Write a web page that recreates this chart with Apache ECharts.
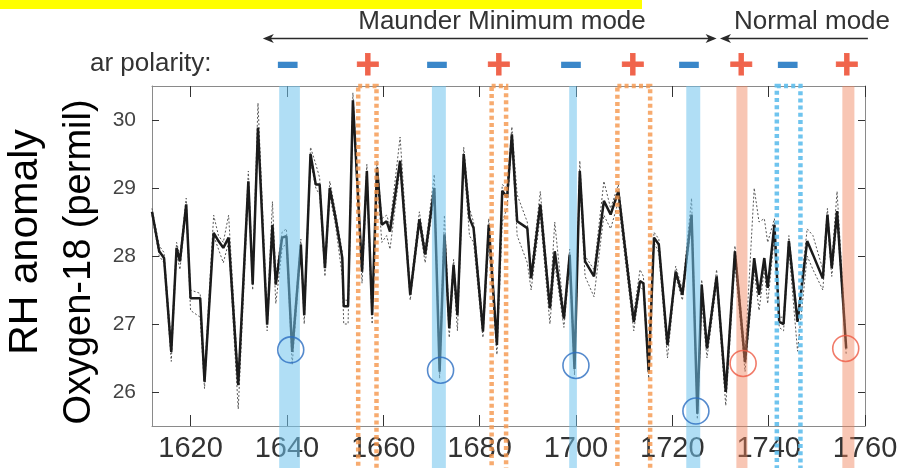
<!DOCTYPE html>
<html><head><meta charset="utf-8">
<script src="https://cdn.jsdelivr.net/npm/echarts@6/dist/echarts.min.js"></script>
<style>html,body{margin:0;padding:0;background:#fff}#c{width:904px;height:468px}</style>
</head><body><div id="c"></div>
<script>
// ---- data ----
const years = [1612,1613.5,1614.5,1616,1617.1,1617.8,1619.1,1620,1622,1622.9,1624.8,1625.8,1626.8,1627.9,1629.9,1632,1632.9,1634,1635.9,1637,1637.7,1639,1639.9,1641.1,1642.9,1643.6,1644.9,1646,1646.8,1647.9,1648.9,1650.1,1651.5,1651.8,1652.7,1653.7,1655.6,1656.6,1657.7,1658.7,1659.7,1660.7,1661.4,1663.5,1665.6,1667.5,1668.7,1670.6,1671.7,1672.7,1673.7,1674.6,1675.4,1676.7,1677.9,1678.75,1680.7,1681.9,1683.6,1684.7,1685.7,1686.7,1687.8,1689.9,1690.7,1692.6,1694.6,1695.6,1697.5,1698.7,1699.7,1700.8,1701.9,1703.75,1705.8,1707.2,1708.8,1712,1713.3,1714,1715.1,1716.2,1717.2,1719,1720.7,1722.1,1724,1725.2,1726.1,1727.2,1729.2,1731.1,1733,1735.1,1737,1738,1739.1,1739.8,1741.2,1742.2,1743.1,1744.2,1746,1748,1749.2,1751.25,1752.2,1753.1,1754.2,1756.1];
const d18O = [28.65,28.07,27.97,26.59,28.12,27.92,28.76,27.38,27.38,26.15,28.34,28.22,28.12,28.27,26.1,29.1,27.58,29.89,26.99,28.46,27.58,28.27,28.29,26.59,28.17,27.13,29.5,29.05,29.05,27.82,29.0,28.56,27.97,27.26,27.26,30.29,27.77,29.25,27.13,29.3,28.46,28.51,28.36,29.4,27.43,28.54,28.02,29.0,26.3,28.32,26.94,27.87,27.13,29.5,28.56,28.41,26.89,28.46,26.69,28.96,28.86,29.79,28.51,28.41,27.67,28.76,27.23,28.07,27.08,28.02,26.34,29.25,27.92,27.7,28.81,28.61,28.95,27.03,27.63,27.6,26.3,28.27,28.17,26.69,27.77,27.43,28.61,25.68,27.58,26.64,27.7,26.0,28.07,26.44,27.97,27.43,27.97,27.53,28.46,27.03,27.0,28.22,27.03,28.22,28.02,27.67,28.61,27.82,28.66,26.64];
const d18OHigh = [28.7,28.15,28.05,26.7,28.2,28.0,28.85,27.5,27.45,26.25,28.6,28.3,28.2,28.6,26.2,29.25,27.7,30.25,27.1,28.8,27.7,28.35,28.4,26.7,28.25,27.2,29.6,29.35,29.15,27.9,29.1,28.65,28.05,27.35,27.35,30.4,27.85,29.35,27.2,29.4,28.55,28.6,28.45,29.75,27.5,28.65,28.1,29.2,26.4,28.6,27.05,27.95,27.2,29.6,28.7,28.5,27.0,28.55,26.8,29.05,29.0,29.9,28.9,28.5,27.75,28.95,27.3,28.5,27.15,28.1,26.45,29.4,28.0,27.8,29.1,28.7,29.05,27.15,27.8,27.7,26.4,28.35,28.25,26.75,27.85,27.5,28.85,25.75,27.65,26.7,27.8,26.1,28.15,26.55,29.0,28.5,28.55,28.2,28.55,27.1,27.1,28.3,27.1,28.4,28.3,27.8,28.7,27.9,28.95,26.7];
const d18OLow = [28.6,28.0,27.9,26.45,28.05,27.8,28.7,27.2,27.1,26.05,28.3,28.1,27.9,28.2,25.75,29.0,27.5,29.8,26.9,28.4,27.3,28.1,28.2,26.4,28.1,27.0,29.4,29.0,28.9,27.7,28.9,28.45,27.7,27.0,27.0,30.2,27.6,29.1,27.0,29.2,28.2,28.3,28.1,29.3,27.35,28.45,27.9,28.9,26.2,28.2,26.8,27.75,26.9,29.4,28.3,28.2,26.8,28.2,26.55,28.5,28.7,29.7,28.3,27.9,27.5,28.6,27.0,27.9,26.95,27.9,26.25,29.1,27.7,27.4,28.6,28.4,28.8,26.9,27.55,27.5,26.2,28.2,28.05,26.5,27.7,27.35,28.5,25.6,27.3,26.5,27.6,25.8,27.9,26.3,27.8,27.2,27.8,27.3,28.3,26.95,26.9,28.1,26.6,28.0,27.8,27.5,28.5,27.7,28.55,26.55];

const xTickLabels = [1620,1640,1660,1680,1700,1720,1740,1760];
const yTickLabels = [26,27,28,29,30];

const solidBandStart = [1638.4,1670.1,1698.6,1722.9,1733.3,1755.3];
const solidBandEnd   = [1642.7,1673.0,1700.2,1725.8,1735.6,1757.8];
const solidBandPolarity = ['-','-','-','-','+','+'];

const dottedBandStart = [1654.8,1682.5,1708.6,1741.7];
const dottedBandEnd   = [1658.6,1685.5,1715.4,1746.6];
const dottedBandPolarity = ['+','+','+','-'];

const signYears = [1640.2,1656.8,1671.2,1684.0,1699.0,1711.8,1723.5,1734.3,1744.0,1756.2];
const signPolarity = ['-','+','-','+','-','+','-','+','-','+'];

const circleYears  = [1640.8,1671.9,1700.0,1724.9,1734.7,1756.0];
const circleValues = [26.62,26.32,26.39,25.72,26.42,26.64];
const circlePolarity = ['-','-','-','-','+','+'];

const modeNames = ['Maunder Minimum mode','Normal mode'];
const modeStart = [1635.0,1729.9];
const modeEnd   = [1729.2,1760.6];

// ---- styles ----
const FONT = "'Liberation Sans', Arial, Helvetica, sans-serif";
const NEG_SOLID = 'rgba(112,194,236,0.55)';
const POS_SOLID = 'rgba(240,128,88,0.45)';
const NEG_DOT = 'rgba(95,190,236,0.9)';
const POS_DOT = 'rgba(245,150,75,0.8)';
const NEG_CIRC = '#2b6dc0';
const POS_CIRC = '#ee5a44';
const NEG_SIGN = '#3a87c9';
const POS_SIGN = '#f0644c';
const Y_TOP = 30.5, Y_BOTTOM_EXT = 24.8;

const chart = echarts.init(document.getElementById('c'), null, {renderer:'canvas'});

const xBase = {type:'value', min:1612, max:1760, splitLine:{show:false},
  axisLine:{show:true, lineStyle:{color:'#8a8a8a', width:1}}};
const yBase = {type:'value', min:25.5, max:30.5, splitLine:{show:false},
  axisLine:{show:true, lineStyle:{color:'#8a8a8a', width:1}}};

function bandRenderer(dotted){
  return function(params, api){
    const p0 = api.coord([api.value(0), Y_TOP]);
    const p1 = api.coord([api.value(1), Y_BOTTOM_EXT]);
    const pos = api.value(2) === 1;
    const shape = {x:p0[0], y:p0[1], width:p1[0]-p0[0], height:p1[1]-p0[1]};
    if (!dotted) return {type:'rect', shape, style:{fill: pos?POS_SOLID:NEG_SOLID}};
    return {type:'rect', shape, style:{fill:'none', stroke: pos?POS_DOT:NEG_DOT, lineWidth:4.5, lineDash:[4,3.2]}};
  };
}

chart.setOption({
  animation:false,
  backgroundColor:'#fff',
  grid:{left:152, right:39, top:86, bottom:42},
  xAxis:[
    Object.assign({}, xBase, {position:'bottom',
      axisTick:{show:true, inside:true, length:11, customValues:xTickLabels, lineStyle:{color:'#333'}},
      axisLabel:{show:true, customValues:xTickLabels, fontSize:29, color:'#333', margin:8, fontFamily:FONT,
        formatter:(v)=>String(v)}}),
    Object.assign({}, xBase, {position:'top',
      axisTick:{show:true, inside:true, length:11, customValues:xTickLabels, lineStyle:{color:'#333'}},
      axisLabel:{show:false}})
  ],
  yAxis:[
    Object.assign({}, yBase, {position:'left',
      axisTick:{show:true, inside:true, length:7, customValues:yTickLabels, lineStyle:{color:'#333'}},
      axisLabel:{show:true, customValues:yTickLabels, fontSize:21, color:'#444', margin:16, fontFamily:FONT,
        formatter:(v)=>String(v)}}),
    Object.assign({}, yBase, {position:'right',
      axisTick:{show:true, inside:true, length:7, customValues:yTickLabels, lineStyle:{color:'#333'}},
      axisLabel:{show:false}})
  ],
  series:[
    {type:'line', name:'upper', xAxisIndex:0, yAxisIndex:0, symbol:'none', z:2, silent:true,
      data: years.map((y,i)=>[y, d18OHigh[i]]),
      lineStyle:{color:'#555', width:1, type:[2,2]}},
    {type:'line', name:'lower', xAxisIndex:0, yAxisIndex:0, symbol:'none', z:2, silent:true,
      data: years.map((y,i)=>[y, d18OLow[i]]),
      lineStyle:{color:'#555', width:1, type:[2,2]}},
    {type:'line', name:'d18O', xAxisIndex:0, yAxisIndex:0, symbol:'none', z:3, silent:true,
      data: years.map((y,i)=>[y, d18O[i]]),
      lineStyle:{color:'#1b1b1b', width:2.5}},
    {type:'custom', name:'solidBands', xAxisIndex:0, yAxisIndex:0, z:5, silent:true, clip:false,
      encode:{x:[0,1]},
      data: solidBandStart.map((s,i)=>[s, solidBandEnd[i], solidBandPolarity[i]==='+'?1:0]),
      renderItem: bandRenderer(false)},
    {type:'custom', name:'dottedBands', xAxisIndex:0, yAxisIndex:0, z:5, silent:true, clip:false,
      encode:{x:[0,1]},
      data: dottedBandStart.map((s,i)=>[s, dottedBandEnd[i], dottedBandPolarity[i]==='+'?1:0]),
      renderItem: bandRenderer(true)},
    {type:'scatter', name:'circles', xAxisIndex:0, yAxisIndex:0, z:6, silent:true,
      symbol:'circle', symbolSize:26,
      data: circleYears.map((y,i)=>({value:[y, circleValues[i]],
        itemStyle:{color:'rgba(0,0,0,0)', borderWidth:1.6, borderColor: circlePolarity[i]==='+'?POS_CIRC:NEG_CIRC}}))}
  ]
});

// ---- annotations positioned through the x scale ----
const px = (yr)=>chart.convertToPixel({xAxisIndex:0}, yr);
const ARROW_Y = 38.5;
function arrowHead(x, dir){
  return {type:'polygon', z:10, shape:{points:[[x,ARROW_Y],[x+dir*11,ARROW_Y-4.5],[x+dir*8,ARROW_Y],[x+dir*11,ARROW_Y+4.5]]},
    style:{fill:'#2a2a2a'}};
}
function txt(text, x, y, size, color, align, extra){
  return {type:'text', z:10, x, y, style:Object.assign({text, fontSize:size, fontFamily:FONT, fill:color,
    align:align, verticalAlign:'middle'}, extra||{})};
}
const g = [];
g.push({type:'rect', z:10, shape:{x:0, y:0, width:642, height:9}, style:{fill:'#ffff00'}});
// mode arrows
const m0 = px(modeStart[0]), m1 = px(modeEnd[0]), n0 = px(modeStart[1]), n1 = px(modeEnd[1]);
g.push({type:'line', z:10, shape:{x1:m0+3, y1:ARROW_Y, x2:m1-3, y2:ARROW_Y}, style:{stroke:'#2a2a2a', lineWidth:1.3}});
g.push(arrowHead(m0, 1)); g.push(arrowHead(m1, -1));
g.push({type:'line', z:10, shape:{x1:n0+3, y1:ARROW_Y, x2:n1, y2:ARROW_Y}, style:{stroke:'#2a2a2a', lineWidth:1.3}});
g.push(arrowHead(n0, 1));
g.push(txt(modeNames[0], 502, 22, 26, '#333', 'center'));
g.push(txt(modeNames[1], 812, 22, 26, '#333', 'center'));
// polarity row
g.push(txt('ar polarity:', 90, 64, 26, '#333', 'left'));
signYears.forEach((yr,i)=>{
  const pos = signPolarity[i]==='+';
  const c = pos?POS_SIGN:NEG_SIGN;
  g.push(txt(pos?'+':'\u2212', px(yr), pos?66:67, pos?42:34, c, 'center',
    {fontWeight:'bold', stroke:c, lineWidth: pos?0.8:2.6}));
});
// axis titles
g.push({type:'text', z:10, x:26, y:242, rotation:Math.PI/2,
  style:{text:'RH anomaly', fontSize:41, fontFamily:FONT, fill:'#000', align:'center', verticalAlign:'middle'}});
g.push({type:'text', z:10, x:80, y:262, rotation:Math.PI/2,
  style:{text:'Oxygen-18 (permil)', fontSize:38, fontFamily:FONT, fill:'#000', align:'center', verticalAlign:'middle'}});
chart.setOption({graphic:g});
</script></body></html>
